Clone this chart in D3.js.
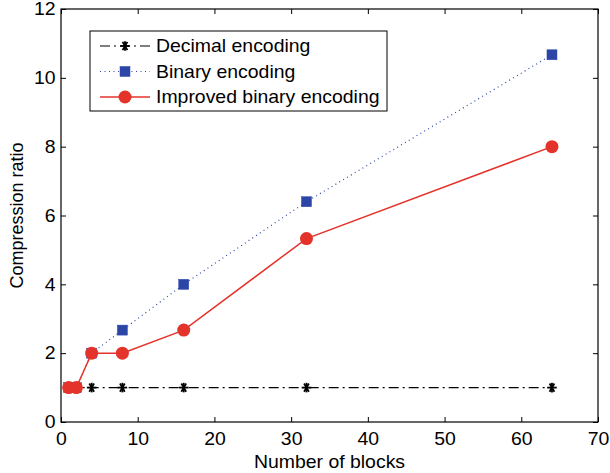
<!DOCTYPE html>
<html>
<head>
<meta charset="utf-8">
<script src="https://cdn.jsdelivr.net/npm/d3@7"></script>
<style>
  body { margin: 0; background: #fff; }
  svg { font-family: "Liberation Sans", Arial, sans-serif; }
</style>
</head>
<body>
<div id="chart"></div>
<script>
// 数据
const blocks = [1, 2, 4, 8, 16, 32, 64];
const decimalRatio = [1, 1, 1, 1, 1, 1, 1];
const binaryRatio = [1, 1, 2, 2.67, 4, 6.4, 10.67];
const improvedRatio = [1, 1, 2, 2, 2.67, 5.33, 8];
const xTicks = [0, 10, 20, 30, 40, 50, 60, 70];
const yTicks = [0, 2, 4, 6, 8, 10, 12];
const seriesNames = ['Decimal encoding', 'Binary encoding', 'Improved binary encoding'];

const width = 610, height = 473;
const margin = { left: 61, right: 12, top: 9, bottom: 51 };
const fs = 18;        // 字号
const stretch = 1.08; // 原图横向略微拉伸

const svg = d3.select('#chart').append('svg')
  .attr('width', width)
  .attr('height', height);

const x = d3.scaleLinear().domain([0, 70]).range([margin.left, width - margin.right]);
const y = d3.scaleLinear().domain([0, 12]).range([height - margin.bottom, margin.top]);

const red = '#e3332a';
const blue = '#2c46a8';

// 横向文字
function hText(g, tx, ty, str, anchor) {
  return g.append('text')
    .attr('transform', `translate(${tx},${ty}) scale(${stretch},1)`)
    .attr('text-anchor', anchor || 'start')
    .attr('font-size', fs)
    .text(str);
}

// 坐标轴
function styleAxis(g) {
  g.select('.domain').remove();
  g.selectAll('.tick line').attr('stroke', '#000').attr('stroke-width', 1);
  g.selectAll('.tick text').attr('font-size', fs).attr('fill', '#000')
    .attr('transform', `scale(${stretch},1)`);
}
svg.append('g')
  .attr('transform', `translate(0,${y(0)})`)
  .call(d3.axisBottom(x).tickValues(xTicks).tickSizeInner(-5).tickSizeOuter(0).tickPadding(10))
  .call(styleAxis);
svg.append('g')
  .attr('transform', `translate(${x(0)},0)`)
  .call(d3.axisLeft(y).tickValues(yTicks).tickSizeInner(-5).tickSizeOuter(0).tickPadding(5))
  .call(styleAxis);
svg.append('g')
  .attr('transform', `translate(0,${y(12)})`)
  .call(d3.axisTop(x).tickValues(xTicks).tickSizeInner(-5).tickSizeOuter(0).tickFormat(''))
  .call(styleAxis);
svg.append('g')
  .attr('transform', `translate(${x(70)},0)`)
  .call(d3.axisRight(y).tickValues(yTicks).tickSizeInner(-5).tickSizeOuter(0).tickFormat(''))
  .call(styleAxis);

svg.append('rect')
  .attr('x', x(0)).attr('y', y(12))
  .attr('width', x(70) - x(0)).attr('height', y(0) - y(12))
  .attr('fill', 'none').attr('stroke', '#000').attr('stroke-width', 1.2);

// 轴标题
hText(svg, (x(0) + x(70)) / 2, 468, 'Number of blocks', 'middle');
svg.append('text')
  .attr('transform', `translate(23,${(y(0) + y(12)) / 2}) rotate(-90)`)
  .attr('text-anchor', 'middle').attr('font-size', fs)
  .text('Compression ratio');

// 标记
function star(g, cx, cy) {
  const r = 4.8;
  [0, 60, 120].forEach(a => {
    const t = a * Math.PI / 180;
    g.append('line')
      .attr('x1', cx - r * Math.cos(t)).attr('y1', cy - r * Math.sin(t))
      .attr('x2', cx + r * Math.cos(t)).attr('y2', cy + r * Math.sin(t))
      .attr('stroke', '#000').attr('stroke-width', 1.8);
  });
  g.append('line').attr('x1', cx).attr('x2', cx).attr('y1', cy - r).attr('y2', cy + r)
    .attr('stroke', '#000').attr('stroke-width', 1.8);
}
function square(g, cx, cy) {
  g.append('rect').attr('x', cx - 5).attr('y', cy - 5).attr('width', 10).attr('height', 10)
    .attr('fill', blue).attr('stroke', blue).attr('stroke-width', 0.5);
}
function dot(g, cx, cy) {
  g.append('circle').attr('cx', cx).attr('cy', cy).attr('r', 6.5).attr('fill', red);
}

const series = [
  { name: seriesNames[0], values: decimalRatio, color: '#000', width: 1.2, dash: '10,4,2,4', marker: star },
  { name: seriesNames[1], values: binaryRatio, color: blue, width: 1.2, dash: '1,3.5', marker: square },
  { name: seriesNames[2], values: improvedRatio, color: red, width: 1.5, dash: null, marker: dot }
];

const line = d3.line().x(d => x(d[0])).y(d => y(d[1]));

series.forEach(s => {
  const pts = blocks.map((b, i) => [b, s.values[i]]);
  const p = svg.append('path')
    .datum(pts)
    .attr('d', line)
    .attr('fill', 'none')
    .attr('stroke', s.color)
    .attr('stroke-width', s.width);
  if (s.dash) p.attr('stroke-dasharray', s.dash);
  const mg = svg.append('g');
  pts.forEach(d => s.marker(mg, x(d[0]), y(d[1])));
});

// 图例
const lg = svg.append('g');
lg.append('rect')
  .attr('x', 90).attr('y', 31).attr('width', 297).attr('height', 80)
  .attr('fill', '#fff').attr('stroke', '#000').attr('stroke-width', 1);
series.forEach((s, i) => {
  const ly = 46 + i * 25.5;
  const l = lg.append('line')
    .attr('x1', 100).attr('x2', 150).attr('y1', ly).attr('y2', ly)
    .attr('stroke', s.color).attr('stroke-width', s.width);
  if (s.dash) l.attr('stroke-dasharray', s.dash);
  s.marker(lg, 125, ly);
  hText(lg, 156, ly, s.name).attr('dy', '0.35em');
});
</script>
</body>
</html>
